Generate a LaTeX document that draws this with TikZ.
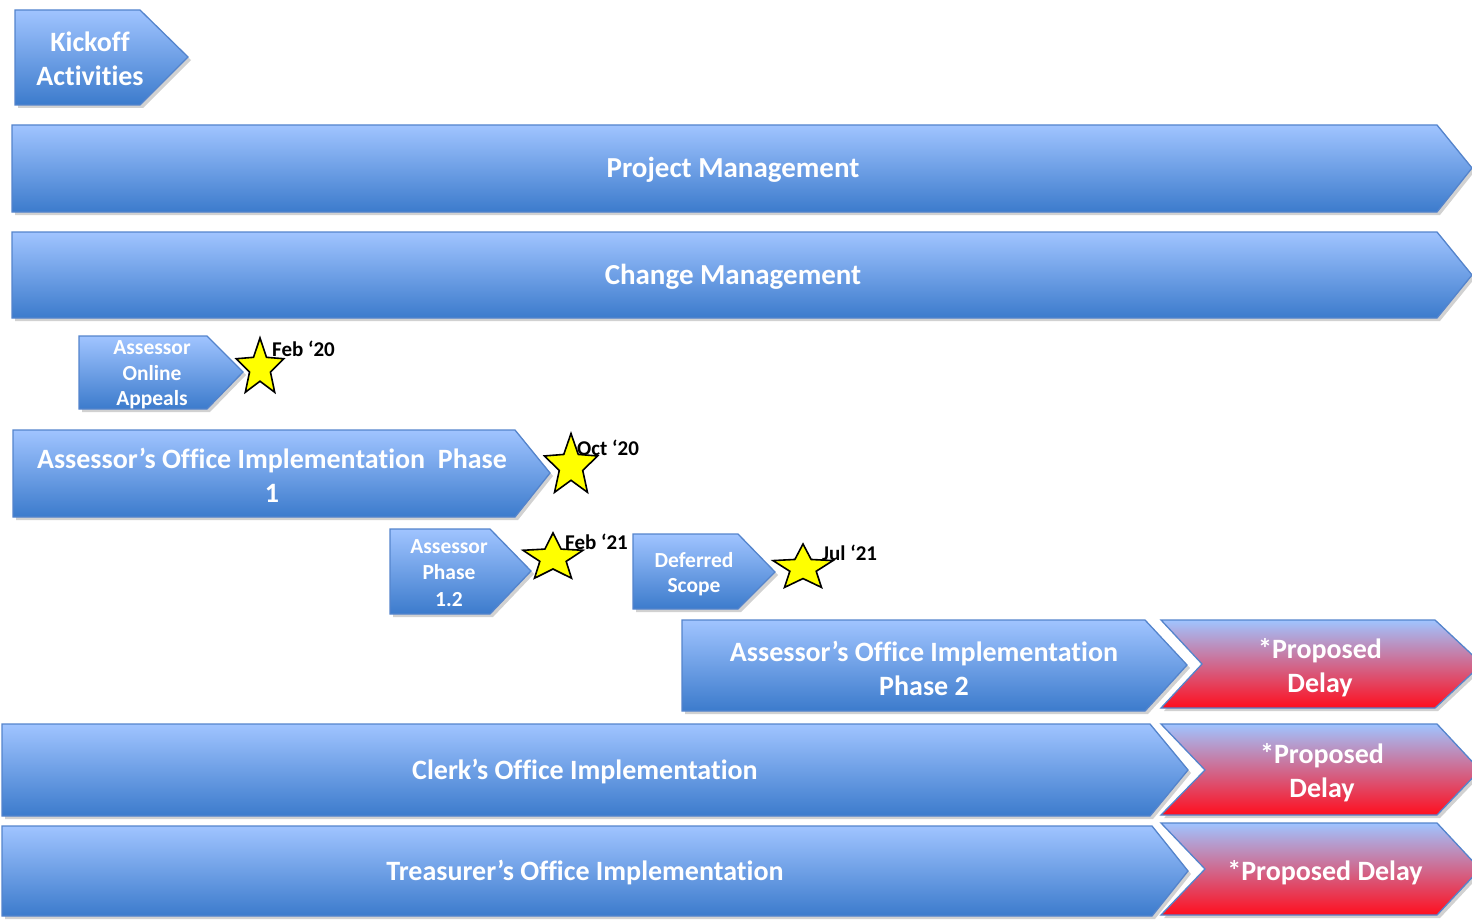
\documentclass[tikz,border=0pt]{standalone}
\usepackage{fontspec}
\setmainfont{Carlito}[Ligatures=NoCommon]
\usepackage{xcolor}
\usetikzlibrary{shadows}

\definecolor{chevtop}{RGB}{160,196,255}
\definecolor{chevbot}{RGB}{60,123,204}
\definecolor{chevline}{RGB}{84,132,204}
\definecolor{delaybot}{RGB}{255,14,30}
\definecolor{staryellow}{RGB}{255,255,0}

\begin{document}
\begin{tikzpicture}[x=1pt,y=-1pt,
    chev/.style={draw=chevline, line width=1.3pt, line join=miter,
      top color=chevtop, bottom color=chevbot,
      drop shadow={shadow xshift=3pt, shadow yshift=-3pt, opacity=0.3, fill=black!60}},
    delay/.style={chev, top color=chevtop, bottom color=delaybot},
    biglbl/.style={text=white, align=center, font=\bfseries\fontsize{28}{34}\selectfont},
    widelbl/.style={biglbl, font=\bfseries\fontsize{29}{34}\selectfont},
    smalllbl/.style={text=white, align=center, font=\bfseries\fontsize{21.5}{25.5}\selectfont},
    milestone/.style={draw=black, line width=1.6pt, line join=miter, fill=staryellow},
    datelbl/.style={anchor=west, inner sep=0pt, font=\bfseries\fontsize{21}{24}\selectfont}]
    \useasboundingbox (0,0) rectangle (1472,923);

    % top rows
    \draw[chev] (15,10) -- (140,10) -- (188,57) -- (140,105) -- (15,105) -- cycle;
    \node[biglbl] (kickoff) at (90,59) {Kickoff\\Activities};
    \draw[chev] (12,125) -- (1437,125) -- (1472,168) -- (1437,212) -- (12,212) -- cycle;
    \node[widelbl] (projmgmt) at (733,170) {Project Management};
    \draw[chev] (12,232) -- (1437,232) -- (1472,275) -- (1437,318) -- (12,318) -- cycle;
    \node[widelbl] (chgmgmt) at (733,277) {Change Management};

    % assessor
    \draw[chev] (79,336) -- (207,336) -- (243,372) -- (207,409) -- (79,409) -- cycle;
    \node[smalllbl] (appeals) at (152,375) {Assessor\\Online\\Appeals};
    \draw[chev] (13,430) -- (515,430) -- (550,473) -- (515,517) -- (13,517) -- cycle;
    \node[biglbl] (phaseone) at (272,475) {Assessor’s Office Implementation~~Phase\\1};
    \draw[chev] (390,529) -- (490,529) -- (531,571) -- (490,614) -- (390,614) -- cycle;
    \node[smalllbl, font=\bfseries\fontsize{21.5}{26.5}\selectfont] (phaseonetwo) at (449,573) {Assessor\\Phase\\1.2};
    \draw[chev] (633,534) -- (738,534) -- (775,572) -- (738,609) -- (633,609) -- cycle;
    \node[smalllbl] (deferred) at (694,574) {Deferred\\Scope};
    \draw[chev] (682,620) -- (1145,620) -- (1187,665) -- (1145,711) -- (682,711) -- cycle;
    \node[biglbl] (phasetwo) at (924,668) {Assessor’s Office Implementation\\Phase 2};

    % clerk and treasurer
    \draw[chev] (2,724) -- (1150,724) -- (1188,770) -- (1150,816) -- (2,816) -- cycle;
    \node[biglbl] (clerk) at (585,772) {Clerk’s Office Implementation};
    \draw[chev] (2,826) -- (1152,826) -- (1188,871) -- (1152,916) -- (2,916) -- cycle;
    \node[biglbl] (treasurer) at (585,873) {Treasurer’s Office Implementation};

    % proposed delays
    \draw[delay] (1161,620) -- (1435,620) -- (1482,664) -- (1435,708) -- (1161,708) -- (1202,664) -- cycle;
    \node[biglbl] (delayone) at (1320,668) {*Proposed\\Delay};
    \draw[delay] (1161,724) -- (1437,724) -- (1480,770) -- (1437,815) -- (1161,815) -- (1205,770) -- cycle;
    \node[biglbl] (delaytwo) at (1322,773) {*Proposed\\Delay};
    \draw[delay] (1161,823) -- (1437,823) -- (1480,869) -- (1437,915) -- (1161,915) -- (1205,869) -- cycle;
    \node[biglbl] (delaythree) at (1325,873) {*Proposed Delay};

    % milestones
    \foreach \cx/\cy/\rx/\ry in {260/368/25/30, 571/466/28/32.5, 553/558/31.5/25, 803/568/31.5/24}
      \draw[milestone] (\cx,\cy)
        +(-90:{\rx} and {\ry}) -- +(-126:{.44*\rx} and {.44*\ry})
        -- +(-162:{\rx} and {\ry}) -- +(-198:{.44*\rx} and {.44*\ry})
        -- +(-234:{\rx} and {\ry}) -- +(-270:{.44*\rx} and {.44*\ry})
        -- +(-306:{\rx} and {\ry}) -- +(-342:{.44*\rx} and {.44*\ry})
        -- +(-18:{\rx} and {\ry}) -- +(-54:{.44*\rx} and {.44*\ry}) -- cycle;
    \node[datelbl] (feb20) at (272,349) {Feb ‘20};
    \node[datelbl] (oct20) at (577,448) {Oct ‘20};
    \node[datelbl] (feb21) at (565,542) {Feb ‘21};
    \node[datelbl] (jul21) at (822,553) {Jul ‘21};
\end{tikzpicture}
\end{document}
